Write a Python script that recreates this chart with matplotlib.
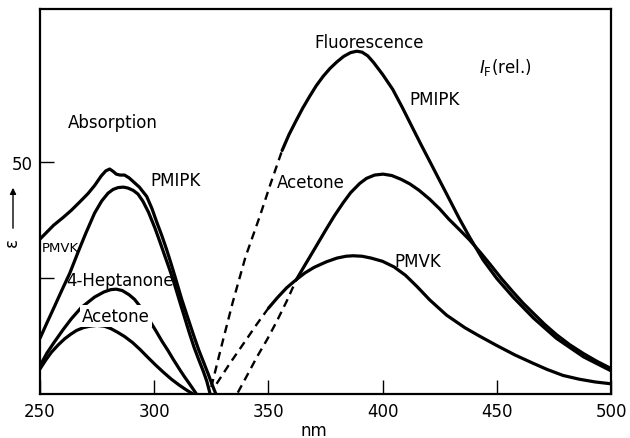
import matplotlib
matplotlib.use("Agg")
import matplotlib.pyplot as plt

# ---------------- data ----------------
# Absorption spectra (epsilon)
abs_pmipk_nm = [250, 253, 256, 260, 263.7, 267, 271, 274, 276.8, 278.8, 280.5, 282, 283.4, 285, 287, 289,
                290.8, 293.5, 296.7, 299, 301, 303.3, 305.4, 307.2, 309, 312, 315, 317.3, 319.5, 321.5,
                323.5, 325.3, 327]
abs_pmipk = [33.4, 34.9, 36.4, 38.0, 39.6, 41.2, 43.2, 45.0, 47.0, 48.1, 48.5, 48.0, 47.4, 47.2, 47.2, 46.6,
             45.8, 44.6, 42.6, 40.0, 37.2, 34.2, 31.2, 28.4, 25.5, 20.5, 16.0, 12.6, 9.5, 7.0,
             4.5, 2.1, 0]

abs_pmvk_nm = [250, 253, 256, 259.5, 263, 266.6, 270, 273.9, 277, 279.8, 282, 284.2, 286.5, 288.5, 290.8,
               292.9, 295, 297.5, 300.3, 302.5, 304.7, 306.5, 308.3, 311, 313, 315.3, 317.5, 319.5,
               321.5, 323, 324.5]
abs_pmvk = [12.0, 15.3, 18.5, 22.3, 26.0, 30.5, 34.6, 39.0, 41.6, 43.3, 44.1, 44.5, 44.6, 44.4, 43.9,
            43.1, 41.6, 39.2, 35.8, 32.8, 29.7, 27.2, 24.6, 20.2, 17.0, 13.3, 10.0, 7.4,
            4.9, 2.8, 0]

abs_hept_nm = [250, 253, 256, 260, 263.7, 268, 273.9, 278, 281, 283.4, 286, 289, 291.4, 293.8, 296.5,
               298.9, 301, 303.5, 306, 308.3, 311, 313, 316, 318.5]
abs_hept = [6.1, 8.8, 11.0, 13.8, 16.2, 18.6, 20.9, 22.0, 22.5, 22.6, 22.3, 21.4, 20.4, 18.9, 17.0,
            15.1, 13.4, 11.3, 9.4, 7.5, 5.4, 3.9, 1.8, 0]

abs_acet_nm = [250, 252.5, 255, 258, 260.8, 263.5, 266, 269, 271.7, 275, 278.3, 281, 284, 287, 290.5,
               293.8, 297, 300.5, 304, 307.5, 311, 314, 317]
abs_acet = [5.4, 7.3, 9.0, 10.6, 11.9, 12.9, 13.7, 14.3, 14.6, 14.8, 14.6, 14.1, 13.3, 12.4, 11.1,
            9.6, 8.0, 6.3, 4.7, 3.2, 1.9, 0.9, 0]

# Fluorescence spectra (relative intensity): dashed (extrapolated) + solid parts
fl_pmipk_dash_nm = [325, 329.5, 334.4, 340, 346.3, 351, 356]
fl_pmipk_dash = [1.5, 10.4, 19.8, 29.6, 38.4, 45.4, 52.5]
fl_pmipk_nm = [356, 359, 362, 365, 368.1, 371, 374, 377, 380, 383, 386, 388.7, 391, 393.5, 396, 400,
               404.4, 408.5, 413.2, 417, 420.6, 425, 429, 433.5, 438.1, 444, 450, 457.1, 466, 476.1,
               488, 500]
fl_pmipk = [52.5, 55.9, 58.8, 61.6, 64.2, 66.5, 68.5, 70.2, 71.6, 72.8, 73.6, 73.9, 73.7, 72.9, 71.5, 68.9,
            65.7, 61.9, 57.3, 53.6, 50.2, 46.0, 42.2, 37.9, 33.8, 28.9, 24.9, 20.9, 16.4, 12.0,
            8.0, 5.0]

fl_acet_dash_nm = [336.6, 341, 345, 349.5, 353.7, 358, 362.3]
fl_acet_dash = [0.3, 4.3, 8.0, 11.8, 15.7, 20.0, 24.7]
fl_acet_nm = [362.3, 366, 370, 375.4, 379, 382.7, 386, 390, 393, 396.5, 400.2, 404, 408, 411.9, 416,
              420.6, 425, 429, 433.5, 438.1, 443, 447, 452, 457.1, 461.5, 466, 471, 476.1, 482, 488,
              494, 500]
fl_acet = [24.7, 27.8, 31.1, 35.6, 38.5, 41.2, 43.4, 45.4, 46.5, 47.2, 47.4, 47.1, 46.3, 45.3, 43.9,
           42.0, 39.9, 37.7, 35.5, 33.2, 30.4, 28.0, 24.9, 22.0, 19.6, 17.4, 15.0, 12.8, 10.6, 8.7,
           7.0, 5.5]

fl_pmvk_dash_nm = [327.3, 333, 340, 345, 350]
fl_pmvk_dash = [2.2, 6.5, 11.5, 15.1, 18.5]
fl_pmvk_nm = [350, 354, 358, 362.3, 366, 370, 375.4, 380, 384, 387.1, 391, 395, 400, 405, 410, 415,
              420.6, 428, 436, 442, 449.8, 458, 466, 472, 479, 486, 493, 500]
fl_pmvk = [18.5, 20.8, 22.9, 24.7, 26.1, 27.3, 28.5, 29.3, 29.7, 29.8, 29.7, 29.3, 28.6, 27.4, 25.6, 23.2,
           20.3, 17.0, 14.3, 12.6, 10.5, 8.4, 6.6, 5.3, 4.0, 3.2, 2.6, 2.2]

xticks = [250, 300, 350, 400, 450, 500]
yticks = [25, 50]
ytick_labels = ["", "50"]

# ---------------- figure ----------------
plt.rcParams['font.family'] = ['DejaVu Sans']
W, H = 630, 439
fig = plt.figure(figsize=(W / 100, H / 100), dpi=100)
ax = fig.add_axes([40 / W, 1 - 395 / H, 571 / W, 385 / H])

lw = 2.3
dlw = 1.7
dash = (0, (3.5, 2.4))
k = 'black'
solid = dict(color=k, lw=lw, solid_capstyle='round', solid_joinstyle='round')

ax.plot(abs_pmipk_nm, abs_pmipk, **solid)
ax.plot(abs_pmvk_nm, abs_pmvk, **solid)
ax.plot(abs_hept_nm, abs_hept, **solid)
ax.plot(abs_acet_nm, abs_acet, **solid)

ax.plot(fl_pmipk_dash_nm, fl_pmipk_dash, color=k, lw=dlw, linestyle=dash)
ax.plot(fl_pmipk_nm, fl_pmipk, **solid)
ax.plot(fl_acet_dash_nm, fl_acet_dash, color=k, lw=dlw, linestyle=dash)
ax.plot(fl_acet_nm, fl_acet, **solid)
ax.plot(fl_pmvk_dash_nm, fl_pmvk_dash, color=k, lw=dlw, linestyle=dash)
ax.plot(fl_pmvk_nm, fl_pmvk, **solid)

ax.set_xlim(250, 500)
ax.set_ylim(0, 83)
ax.set_xticks(xticks)
ax.set_yticks(yticks)
ax.set_yticklabels(ytick_labels)
ax.tick_params(direction='in', length=10, width=1.0, labelsize=12, pad=5)
ax.tick_params(axis='x', pad=6)
for s in ax.spines.values():
    s.set_linewidth(1.6)
    s.set_zorder(6)

ax.set_xlabel("nm", fontsize=12)
ax.xaxis.set_label_coords((314 - 40) / 571, (395 - 422) / 385)


def px(x, y):
    """pixel position of a label centre -> axes fraction"""
    return ((x - 40) / 571, (395 - y) / 385)


fs = 12
labels = [
    ("Absorption", 113, 123, fs, None),
    ("PMIPK", 176, 181, fs, None),
    ("PMVK", 60, 249, 9.5, None),
    ("4-Heptanone", 120, 281, fs, None),
    ("Acetone", 116, 317, fs, dict(facecolor='white', edgecolor='none', pad=1.2)),
    ("Fluorescence", 369, 43, fs, None),
    ("PMIPK", 435, 100, fs, None),
    ("Acetone", 311, 183, fs, None),
    ("PMVK", 418, 262, fs, None),
]
for txt, x, y, f, bb in labels:
    ax.text(*px(x, y), txt, transform=ax.transAxes, ha='center', va='center',
            fontsize=f, bbox=bb, zorder=5)

ax.text(*px(505, 68), r"$I_{\mathrm{F}}$(rel.)", transform=ax.transAxes,
        ha='center', va='center', fontsize=fs)

# y axis label: epsilon with an upward arrow
fig.text(12 / W, 1 - 243 / H, "ε", rotation=90, ha='center', va='center', fontsize=12)
ax.annotate("", xy=(13, H - 186), xytext=(13, H - 232), xycoords='figure pixels',
            textcoords='figure pixels',
            arrowprops=dict(arrowstyle='-|>', color=k, lw=1.0, mutation_scale=9))

fig.savefig("out.png", dpi=100)
